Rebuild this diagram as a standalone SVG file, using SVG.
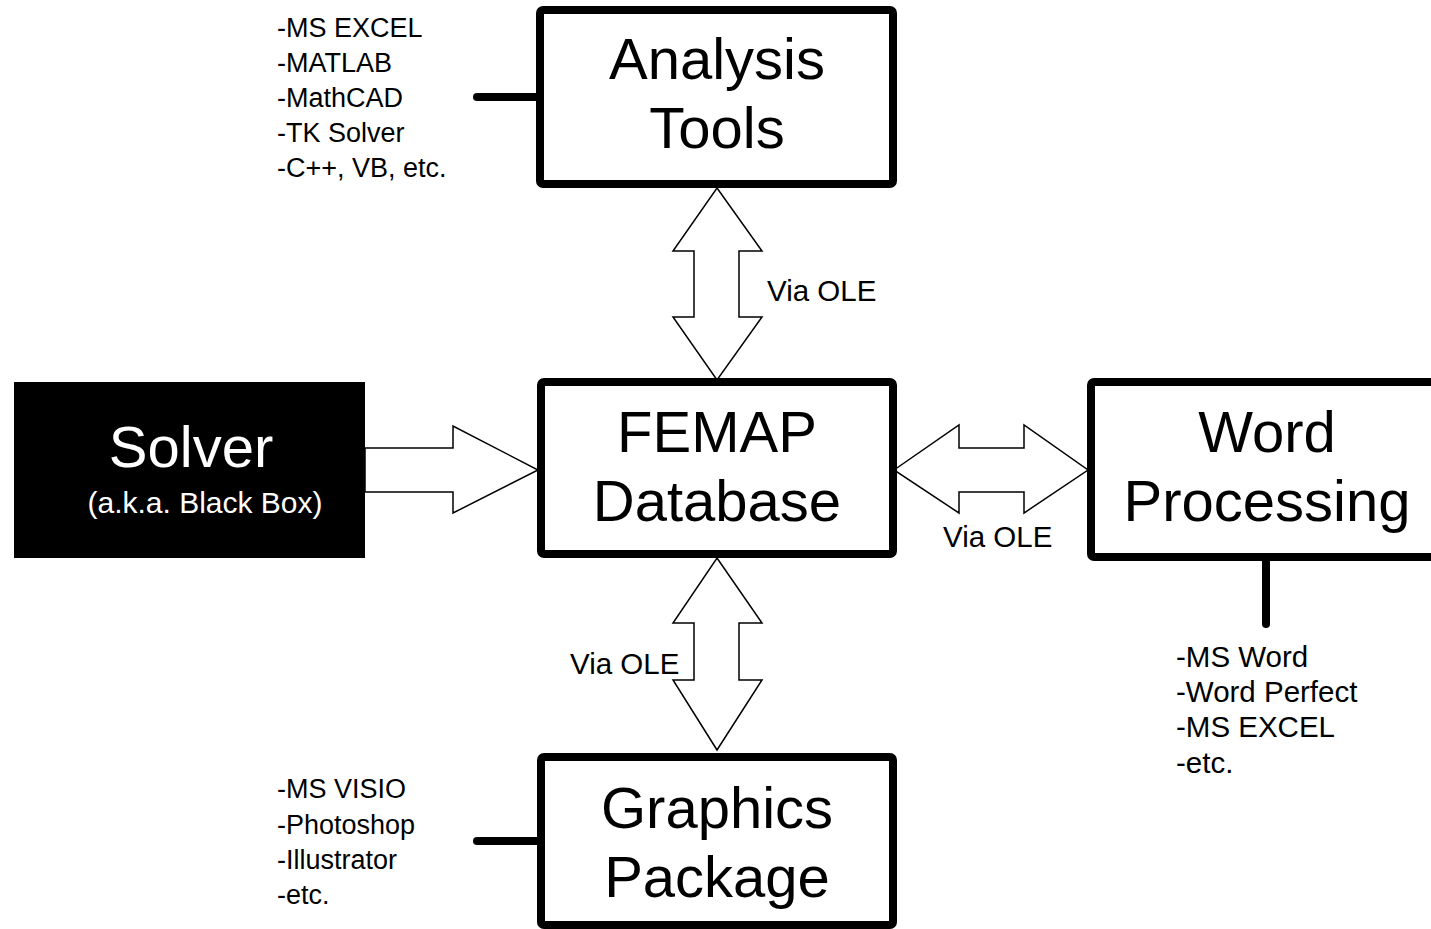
<svg xmlns="http://www.w3.org/2000/svg" width="1431" height="929" viewBox="0 0 1431 929">
<style>
.box{fill:#fff;stroke:#000;stroke-width:8;stroke-linejoin:round}
.big{font-family:"Liberation Sans",Arial,sans-serif;font-size:58px;text-anchor:middle;fill:#000}
.lbl{font-family:"Liberation Sans",Arial,sans-serif;font-size:27px;fill:#000}
.lbl2{font-family:"Liberation Sans",Arial,sans-serif;font-size:29.5px;fill:#000}
.arr{fill:#fff;stroke:#000;stroke-width:1.5;stroke-linejoin:miter}
.tick{stroke:#000;stroke-width:8;stroke-linecap:round;fill:none}
</style>
<rect width="1431" height="929" fill="#fff"/>
<g id="connectors">
<polygon class="arr" points="717,188 762,251 739,251 739,317 762,317 717,380 673,317 694,317 694,251 673,251"/>
<polygon class="arr" points="717,558 762,623 739,623 739,680 762,680 717,750 673,680 694,680 694,623 673,623"/>
<polygon class="arr" points="365,448 453,448 453,426 538,470 453,513 453,492 365,492"/>
<polygon class="arr" points="894,470 959,425 959,448 1024,448 1024,425 1088,470 1024,513 1024,492 959,492 959,513"/>
<line class="tick" x1="477" y1="97" x2="540" y2="97"/>
<line class="tick" x1="477" y1="841" x2="540" y2="841"/>
<line class="tick" x1="1266" y1="557" x2="1266" y2="624"/>
<text class="lbl2" x="767" y="301">Via OLE</text>
<text class="lbl2" x="943" y="547">Via OLE</text>
<text class="lbl2" x="570" y="674">Via OLE</text>
</g>
<g id="analysis">
<rect class="box" x="540" y="10" width="353" height="174" rx="3"/>
<text class="big" x="717" y="79">Analysis</text>
<text class="big" x="717" y="148">Tools</text>
</g>
<g id="analysis-list">
<text class="lbl" x="277" y="37">-MS EXCEL</text>
<text class="lbl" x="277" y="72">-MATLAB</text>
<text class="lbl" x="277" y="107">-MathCAD</text>
<text class="lbl" x="277" y="142">-TK Solver</text>
<text class="lbl" x="277" y="177">-C++, VB, etc.</text>
</g>
<g id="femap">
<rect class="box" x="541" y="382" width="352" height="172" rx="3"/>
<text class="big" x="717" y="452">FEMAP</text>
<text class="big" x="717" y="521">Database</text>
</g>
<g id="solver">
<rect x="14" y="382" width="351" height="176" fill="#000"/>
<text class="big" x="191" y="467" style="fill:#fff">Solver</text>
<text x="205" y="513" text-anchor="middle" style="fill:#fff;font-family:'Liberation Sans',Arial,sans-serif;font-size:30px">(a.k.a. Black Box)</text>
</g>
<g id="word">
<rect class="box" x="1091" y="382" width="400" height="175" rx="3"/>
<text class="big" x="1267" y="452">Word</text>
<text class="big" x="1267" y="521">Processing</text>
</g>
<g id="word-list">
<text class="lbl2" x="1176" y="667">-MS Word</text>
<text class="lbl2" x="1176" y="702">-Word Perfect</text>
<text class="lbl2" x="1176" y="737">-MS EXCEL</text>
<text class="lbl2" x="1176" y="773">-etc.</text>
</g>
<g id="graphics">
<rect class="box" x="541" y="757" width="352" height="168" rx="3"/>
<text class="big" x="717" y="828">Graphics</text>
<text class="big" x="717" y="897">Package</text>
</g>
<g id="graphics-list">
<text class="lbl" x="277" y="798">-MS VISIO</text>
<text class="lbl" x="277" y="834">-Photoshop</text>
<text class="lbl" x="277" y="869">-Illustrator</text>
<text class="lbl" x="277" y="904">-etc.</text>
</g>
</svg>
